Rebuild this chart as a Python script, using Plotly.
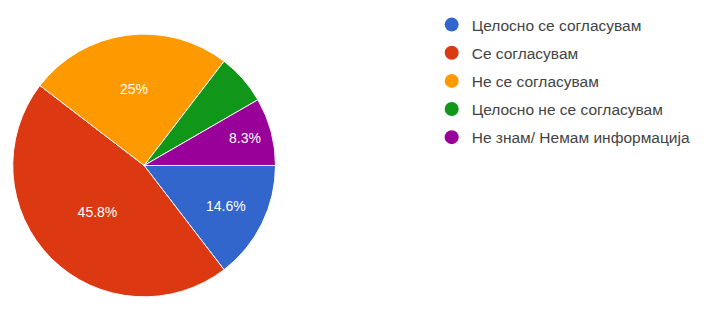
import plotly.graph_objects as go

# Survey answers (48 respondents)
labels = [
    "Целосно се согласувам",
    "Се согласувам",
    "Не се согласувам",
    "Целосно не се согласувам",
    "Не знам/ Немам информација",
]
counts = [7, 22, 12, 3, 4]
colors = ["#3366cc", "#dc3912", "#ff9900", "#109618", "#990099"]

total = sum(counts)


def pct_label(n):
    p = n / total * 100
    if p < 7:  # small slices stay unlabelled
        return ""
    return f"{p:.1f}".rstrip("0").rstrip(".") + "%"


fig = go.Figure()
fig.add_trace(go.Pie(
    labels=labels,
    values=counts,
    text=[pct_label(n) for n in counts],
    textinfo="text",
    textposition="inside",
    insidetextfont=dict(color="white", size=14, family="Liberation Sans, Arial"),
    marker=dict(colors=colors, line=dict(color="white", width=1)),
    sort=False,
    direction="clockwise",
    rotation=90,
    showlegend=False,
    domain=dict(x=[0.0, 0.39], y=[0.08, 0.95]),
    hovertemplate="%{label}: %{value}<extra></extra>",
))

# round legend markers like the original
for name, col in zip(labels, colors):
    fig.add_trace(go.Scatter(
        x=[None], y=[None], mode="markers", name=name, legendgroup=name,
        marker=dict(color=col, size=14, symbol="circle"),
    ))

# page body has an 8px margin, so the figure is 698x313
fig.update_layout(
    width=698, height=313,
    margin=dict(l=0, r=0, t=0, b=0),
    paper_bgcolor="white",
    plot_bgcolor="white",
    xaxis=dict(visible=False),
    yaxis=dict(visible=False),
    font=dict(family="Liberation Sans, Arial", size=15.5, color="#444444"),
    legend=dict(
        x=0.607, y=1.038, xanchor="left", yanchor="top",
        tracegroupgap=5,
        font=dict(size=15.5, color="#444444"),
    ),
)

fig.write_html("out.html")
